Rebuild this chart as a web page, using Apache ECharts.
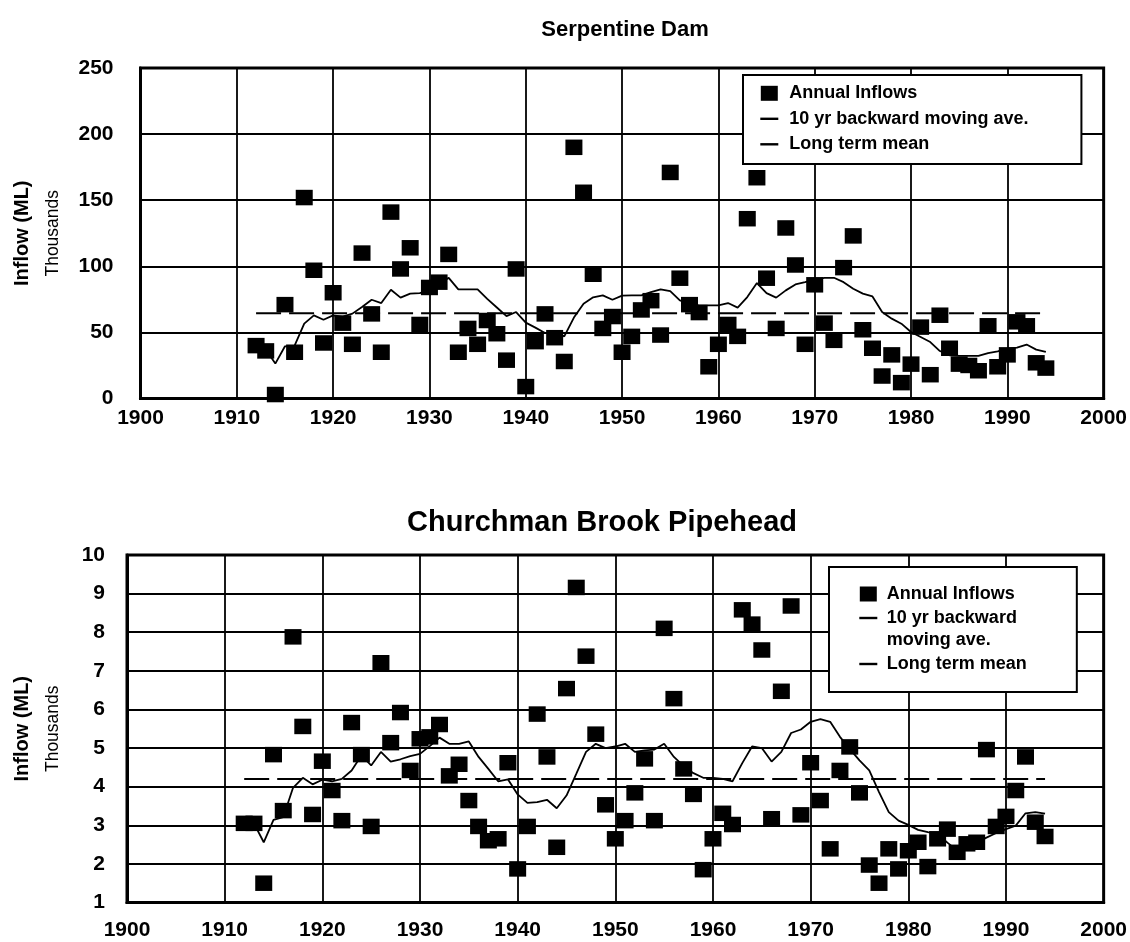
<!DOCTYPE html>
<html>
<head>
<meta charset="utf-8">
<script src="https://cdn.jsdelivr.net/npm/echarts@6/dist/echarts.min.js"></script>
<style>
  html, body { margin: 0; padding: 0; background: #ffffff; }
  #chart { width: 1130px; height: 942px; }
</style>
</head>
<body>
<div id="chart"></div>
<script>
// Years of record shared by both catchments
const years = [1912, 1913, 1914, 1915, 1916, 1917, 1918, 1919, 1920, 1921,
  1922, 1923, 1924, 1925, 1926, 1927, 1928, 1929, 1930, 1931,
  1932, 1933, 1934, 1935, 1936, 1937, 1938, 1939, 1940, 1941,
  1942, 1943, 1944, 1945, 1946, 1947, 1948, 1949, 1950, 1951,
  1952, 1953, 1954, 1955, 1956, 1957, 1958, 1959, 1960, 1961,
  1962, 1963, 1964, 1965, 1966, 1967, 1968, 1969, 1970, 1971,
  1972, 1973, 1974, 1975, 1976, 1977, 1978, 1979, 1980, 1981,
  1982, 1983, 1984, 1985, 1986, 1987, 1988, 1989, 1990, 1991,
  1992, 1993, 1994];

// Serpentine Dam annual inflows (thousands of ML)
const serpInflow = [40, 36, 3, 71, 35, 152, 97, 42, 80, 57,
  41, 110, 64, 35, 141, 98, 114, 56, 84, 88,
  109, 35, 53, 41, 59, 49, 29, 98, 9, 43,
  64, 46, 28, 190, 156, 94, 53, 62, 35, 47,
  67, 74, 48, 171, 91, 71, 65, 24, 41, 56,
  47, 136, 167, 91, 53, 129, 101, 41, 86, 57,
  44, 99, 123, 52, 38, 17, 33, 12, 26, 54,
  18, 63, 38, 26, 25, 21, 55, 24, 33, 58,
  55, 27, 23];

// Serpentine Dam 10 yr backward moving average
const serpMovAvg = [41.5, 37, 26.4, 39.5, 40, 56.6, 62.9, 59.6, 62.9, 62,
  64.2, 69.2, 74.7, 72.2, 82.3, 76.3, 79.3, 79.7, 81.8, 86.4,
  91.3, 82.5, 82.5, 82.5, 75.3, 68.8, 62.3, 65.4, 57.4, 53.6,
  49.5, 50.3, 47, 61.2, 71.7, 76.5, 78, 74.7, 77.8, 78,
  78, 80.5, 82.5, 81.2, 74.2, 71.7, 70.4, 70.4, 70.4, 72.2,
  68.7, 76.7, 87.3, 79.7, 76.3, 81.8, 86.3, 88, 89.8, 91.3,
  91.3, 88, 83, 79.3, 77.2, 65.4, 60.4, 56.6, 50.3, 46.5,
  42.7, 35.9, 32.7, 32.2, 32.2, 32.2, 34.4, 35.7, 37.7, 38.5,
  40.8, 37, 35.2];

const serpMean = 64.5;

// Churchman Brook Pipehead annual inflows (thousands of ML)
const churchInflow = [3.05, 3.05, 1.5, 4.83, 3.38, 7.88, 5.56, 3.28, 4.66, 3.9,
  3.12, 5.66, 4.83, 2.97, 7.21, 5.14, 5.92, 4.42, 5.24, 5.29,
  5.61, 4.28, 4.58, 3.64, 2.97, 2.6, 2.65, 4.62, 1.87, 2.97,
  5.88, 4.77, 2.43, 6.54, 9.16, 7.38, 5.36, 3.53, 2.65, 3.12,
  3.84, 4.72, 3.12, 8.1, 6.28, 4.46, 3.8, 1.85, 2.65, 3.31,
  3.02, 8.58, 8.21, 7.54, 3.17, 6.47, 8.68, 3.27, 4.62, 3.64,
  2.39, 4.42, 5.03, 3.84, 1.97, 1.5, 2.39, 1.87, 2.34, 2.56,
  1.93, 2.65, 2.9, 2.3, 2.52, 2.56, 4.96, 2.97, 3.23, 3.9,
  4.77, 3.08, 2.71];

// Churchman Brook 10 yr backward moving average
const churchMovAvg = [3.05, 3.05, 2.56, 3.14, 3.21, 3.97, 4.23, 4.06, 4.18, 4.14,
  4.2, 4.42, 4.81, 4.55, 4.9, 4.65, 4.71, 4.79, 4.85, 5.05,
  5.27, 5.11, 5.11, 5.17, 4.77, 4.46, 4.14, 4.19, 3.8, 3.58,
  3.6, 3.66, 3.44, 3.77, 4.33, 4.9, 5.11, 5.0, 5.04, 5.11,
  4.9, 4.94, 4.96, 5.11, 4.77, 4.53, 4.35, 4.23, 4.23, 4.2,
  4.14, 4.61, 5.04, 5.0, 4.65, 4.9, 5.39, 5.48, 5.68, 5.75,
  5.68, 5.29, 4.98, 4.68, 4.42, 3.86, 3.34, 3.12, 3.01, 2.88,
  2.82, 2.78, 2.55, 2.35, 2.45, 2.55, 2.68, 2.8, 2.9, 2.99,
  3.31, 3.34, 3.3];

const churchMean = 4.2;

// Axis ticks
const yearTicks = { min: 1900, max: 2000, step: 10 };
const serpTicks = { min: 0, max: 250, step: 50 };
const churchTicks = { min: 1, max: 10, step: 1 };

const titles = ['Serpentine Dam', 'Churchman Brook Pipehead'];
const nameInflow = 'Annual Inflows';
const nameMovAvg = '10 yr backward moving ave.';
const nameMean = 'Long term mean';

const FONT = '"Liberation Sans", Arial, Helvetica, sans-serif';

function pairs(xs, ys) { return xs.map((x, i) => [x, ys[i]]); }
function meanLine(v) { return [[years[0], v], [years[years.length - 1], v]]; }
function plain(v) { return String(v); }

function xAxisFor(gridIndex, margin) {
  return {
    gridIndex: gridIndex, type: 'value',
    min: yearTicks.min, max: yearTicks.max, interval: yearTicks.step,
    axisLine: { show: true, onZero: false, lineStyle: { color: '#000', width: 3 } },
    axisTick: { show: false },
    axisLabel: { color: '#000', fontFamily: FONT, fontWeight: 'bold', fontSize: 21,
      margin: margin, formatter: plain },
    splitLine: { show: true, lineStyle: { color: '#000', width: 1.8 } }
  };
}

function yAxisFor(gridIndex, ticks, margin, gap) {
  return {
    gridIndex: gridIndex, type: 'value',
    min: ticks.min, max: ticks.max, interval: ticks.step,
    name: '{a|Inflow (ML)}\n{b|Thousands}',
    nameLocation: 'middle', nameRotate: 90, nameGap: gap,
    nameTextStyle: {
      color: '#000',
      rich: {
        a: { fontFamily: FONT, fontWeight: 'bold', fontSize: 20, lineHeight: 31, color: '#000' },
        b: { fontFamily: FONT, fontWeight: 'normal', fontSize: 17.5, lineHeight: 31, color: '#000' }
      }
    },
    axisLine: { show: true, lineStyle: { color: '#000', width: 3 } },
    axisTick: { show: false },
    axisLabel: { color: '#000', fontFamily: FONT, fontWeight: 'bold', fontSize: 21,
      margin: margin, formatter: plain },
    splitLine: { show: true, lineStyle: { color: '#000', width: 1.8 } }
  };
}

function seriesFor(idx, inflow, movAvg, mean) {
  return [
    {
      name: nameMean, type: 'line', xAxisIndex: idx, yAxisIndex: idx,
      data: meanLine(mean), symbol: 'none', silent: true,
      lineStyle: { color: '#000', width: 2, type: [25, 8] },
      itemStyle: { color: '#000' }, z: 2
    },
    {
      name: nameMovAvg, type: 'line', xAxisIndex: idx, yAxisIndex: idx,
      data: pairs(years, movAvg), symbol: 'none', silent: true,
      lineStyle: { color: '#000', width: 1.8 },
      itemStyle: { color: '#000' }, z: 3
    },
    {
      name: nameInflow, type: 'scatter', xAxisIndex: idx, yAxisIndex: idx,
      data: pairs(years, inflow), symbol: 'rect', symbolSize: [17, 15.5],
      itemStyle: { color: '#000', opacity: 1 }, silent: true, z: 4
    }
  ];
}

const legendText = { color: '#000', fontFamily: FONT, fontWeight: 'bold', fontSize: 18 };
const iconStyle = { color: '#000', borderWidth: 0 };

const option = {
  animation: false,
  backgroundColor: '#ffffff',
  title: [
    { text: titles[0], left: 625, top: 19, textAlign: 'center', padding: 0,
      textStyle: { color: '#000', fontFamily: FONT, fontWeight: 'bold', fontSize: 22 } },
    { text: titles[1], left: 602, top: 508, textAlign: 'center', padding: 0,
      textStyle: { color: '#000', fontFamily: FONT, fontWeight: 'bold', fontSize: 29 } }
  ],
  grid: [
    { left: 140.5, top: 68, width: 965.5, height: 330.5, show: true,
      borderColor: '#000', borderWidth: 3, backgroundColor: '#fff' },
    { left: 127, top: 555, width: 980, height: 347.5, show: true,
      borderColor: '#000', borderWidth: 3, backgroundColor: '#fff' }
  ],
  xAxis: [xAxisFor(0, 9), xAxisFor(1, 17)],
  yAxis: [yAxisFor(0, serpTicks, 27, 71.5), yAxisFor(1, churchTicks, 22, 58.5)],
  legend: [
    {
      orient: 'vertical', left: 743, top: 75, selectedMode: false,
      padding: [8.3, 53, 9.7, 11.3], itemGap: 5.5, itemWidth: 30, itemHeight: 17,
      backgroundColor: '#fff', borderColor: '#000', borderWidth: 2,
      textStyle: Object.assign({ lineHeight: 20 }, legendText),
      data: [
        { name: nameInflow, icon: 'path://M0,0M30,17M6.5,1h17v15h-17z', itemStyle: iconStyle },
        { name: nameMovAvg, icon: 'path://M0,0M30,17M6,7.3h18v2.4h-18z', itemStyle: iconStyle },
        { name: nameMean, icon: 'path://M0,0M30,17M6,7.3h18v2.4h-18z', itemStyle: iconStyle }
      ]
    },
    {
      orient: 'vertical', left: 829, top: 567, selectedMode: false,
      padding: [12, 50, 13, 25.8], itemGap: -2, itemWidth: 27, itemHeight: 30,
      backgroundColor: '#fff', borderColor: '#000', borderWidth: 2,
      textStyle: Object.assign({ lineHeight: 22 }, legendText),
      formatter: function (name) {
        return name === nameMovAvg ? '10 yr backward\nmoving ave.' : name;
      },
      data: [
        { name: nameInflow, icon: 'path://M0,0M27,30M5,7.5h17v15h-17z', itemStyle: iconStyle },
        { name: nameMovAvg, icon: 'path://M0,0M27,30M4.5,2.8h18v2.4h-18z', itemStyle: iconStyle },
        { name: nameMean, icon: 'path://M0,0M27,30M4.5,13.8h18v2.4h-18z', itemStyle: iconStyle }
      ]
    }
  ],
  series: [].concat(
    seriesFor(0, serpInflow, serpMovAvg, serpMean),
    seriesFor(1, churchInflow, churchMovAvg, churchMean)
  )
};

const chart = echarts.init(document.getElementById('chart'), null, { renderer: 'canvas' });
chart.setOption(option);
</script>
</body>
</html>
